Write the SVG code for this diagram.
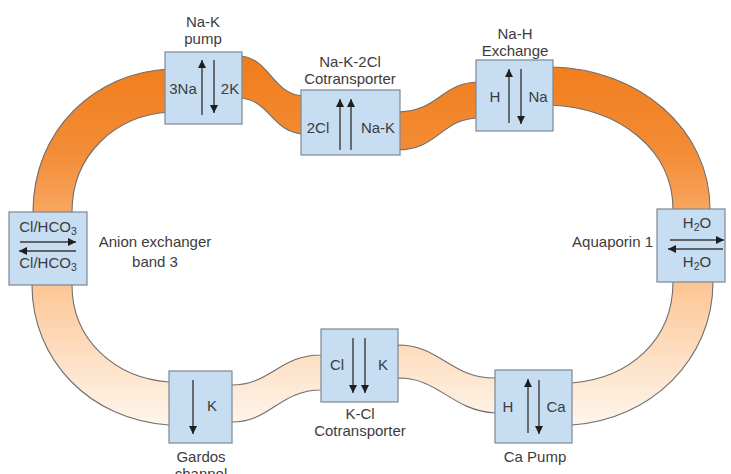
<svg xmlns="http://www.w3.org/2000/svg" width="731" height="474" viewBox="0 0 731 474">
  <style>
    .box { fill: #c6ddf2; stroke: #7d8893; stroke-width: 1.2; }
    .lbl { font-family: "Liberation Sans", Arial, sans-serif; font-size: 15px; fill: #3c3c3c; }
    .c { text-anchor: middle; }
    .r { text-anchor: end; }
    .arr { stroke: #3a3a3a; stroke-width: 1.4; fill: none; marker-end: url(#head); }
    .band { stroke: #6f6f6f; stroke-width: 1.1; fill-rule: evenodd; fill: url(#membrane); }
  </style>
  <defs>
    <linearGradient id="membrane" gradientUnits="userSpaceOnUse" x1="0" y1="55" x2="0" y2="440">
      <stop offset="0" stop-color="#f07c1a"/>
      <stop offset="0.25" stop-color="#f38c36"/>
      <stop offset="0.45" stop-color="#f9ad6c"/>
      <stop offset="0.62" stop-color="#fdc99b"/>
      <stop offset="0.82" stop-color="#fde4cc"/>
      <stop offset="1" stop-color="#fffaf5"/>
    </linearGradient>
    <marker id="head" viewBox="0 0 10 10" refX="10" refY="5" markerWidth="8" markerHeight="9" markerUnits="userSpaceOnUse" orient="auto">
      <path d="M0,0 L10,5 L0,10 z" fill="#1e1e1e"/>
    </marker>
  </defs>

  <!-- membrane ring: outer contour and inner contour, passing under the transporter boxes -->
  <g id="membrane-ring">
    <path class="band" d="M33,212 C33,130 95,72 170,69 L238,56 C270,56 272,96 305,96 L396,112 C440,112 440,82 480,82 L550,67 C640,68 710,130 710,209 L713,282 C713,360 650,420 572,425 L495,413 C450,410 440,378 398,378 L321,390 C280,390 270,422 232,422 L169,425 C90,420 32,360 32,285 Z
      M72,212 C72,155 115,115 170,112 L238,98 C270,98 272,134 305,134 L396,150 C440,150 440,118 480,118 L550,105 C620,108 673,150 673,209 L673,282 C673,340 630,378 572,383 L495,378 C450,378 440,345 398,345 L321,355 C280,355 270,385 232,385 L169,382 C115,378 72,340 72,285 Z"/>
  </g>

  <!-- Na-K pump -->
  <g id="na-k-pump">
    <rect class="box" x="165" y="52" width="77" height="72"/>
    <line class="arr" x1="202" y1="115" x2="202" y2="60"/>
    <line class="arr" x1="214" y1="60" x2="214" y2="113"/>
    <text class="lbl c" x="183" y="94">3Na</text>
    <text class="lbl c" x="230" y="94">2K</text>
    <text class="lbl c" x="203" y="27">Na-K</text>
    <text class="lbl c" x="203" y="44">pump</text>
  </g>

  <!-- Na-K-2Cl cotransporter -->
  <g id="nkcc">
    <rect class="box" x="301" y="90" width="99" height="65"/>
    <line class="arr" x1="340" y1="150" x2="340" y2="99"/>
    <line class="arr" x1="351" y1="150" x2="351" y2="99"/>
    <text class="lbl c" x="318" y="133">2Cl</text>
    <text class="lbl c" x="378" y="133">Na-K</text>
    <text class="lbl c" x="350" y="67">Na-K-2Cl</text>
    <text class="lbl c" x="350" y="84">Cotransporter</text>
  </g>

  <!-- Na-H exchange -->
  <g id="na-h-exchange">
    <rect class="box" x="476" y="60" width="77" height="71"/>
    <line class="arr" x1="509" y1="123" x2="509" y2="69"/>
    <line class="arr" x1="521" y1="69" x2="521" y2="124"/>
    <text class="lbl c" x="495" y="102">H</text>
    <text class="lbl c" x="538" y="102">Na</text>
    <text class="lbl c" x="515" y="39">Na-H</text>
    <text class="lbl c" x="515" y="56">Exchange</text>
  </g>

  <!-- Anion exchanger band 3 -->
  <g id="anion-exchanger">
    <rect class="box" x="9" y="212" width="78" height="73"/>
    <text class="lbl c" x="48" y="232">Cl/HCO<tspan font-size="10.5" dy="3">3</tspan></text>
    <line class="arr" x1="20" y1="242" x2="76" y2="242"/>
    <line class="arr" x1="76" y1="251" x2="19" y2="251"/>
    <text class="lbl c" x="48" y="268">Cl/HCO<tspan font-size="10.5" dy="3">3</tspan></text>
    <text class="lbl c" x="155" y="247">Anion exchanger</text>
    <text class="lbl c" x="155" y="267">band 3</text>
  </g>

  <!-- Aquaporin 1 -->
  <g id="aquaporin">
    <rect class="box" x="657" y="209" width="68" height="73"/>
    <text class="lbl c" x="697" y="228">H<tspan font-size="10.5" dy="3">2</tspan><tspan dy="-3">O</tspan></text>
    <line class="arr" x1="670" y1="240" x2="724" y2="240"/>
    <line class="arr" x1="723" y1="249" x2="668" y2="249"/>
    <text class="lbl c" x="697" y="267">H<tspan font-size="10.5" dy="3">2</tspan><tspan dy="-3">O</tspan></text>
    <text class="lbl r" x="653" y="247">Aquaporin 1</text>
  </g>

  <!-- Gardos channel -->
  <g id="gardos">
    <rect class="box" x="169" y="371" width="63" height="72"/>
    <line class="arr" x1="193" y1="380" x2="193" y2="434"/>
    <text class="lbl c" x="212" y="411">K</text>
    <text class="lbl c" x="201" y="462">Gardos</text>
    <text class="lbl c" x="201" y="479">channel</text>
  </g>

  <!-- K-Cl cotransporter -->
  <g id="kcc">
    <rect class="box" x="321" y="329" width="77" height="73"/>
    <line class="arr" x1="353" y1="338" x2="353" y2="393"/>
    <line class="arr" x1="365" y1="338" x2="365" y2="393"/>
    <text class="lbl c" x="337" y="370">Cl</text>
    <text class="lbl c" x="383" y="370">K</text>
    <text class="lbl c" x="360" y="419">K-Cl</text>
    <text class="lbl c" x="360" y="436">Cotransporter</text>
  </g>

  <!-- Ca pump -->
  <g id="ca-pump">
    <rect class="box" x="495" y="370" width="77" height="73"/>
    <line class="arr" x1="528" y1="433" x2="528" y2="379"/>
    <line class="arr" x1="539" y1="380" x2="539" y2="434"/>
    <text class="lbl c" x="508" y="412">H</text>
    <text class="lbl c" x="556" y="412">Ca</text>
    <text class="lbl c" x="535" y="462">Ca Pump</text>
  </g>
</svg>
